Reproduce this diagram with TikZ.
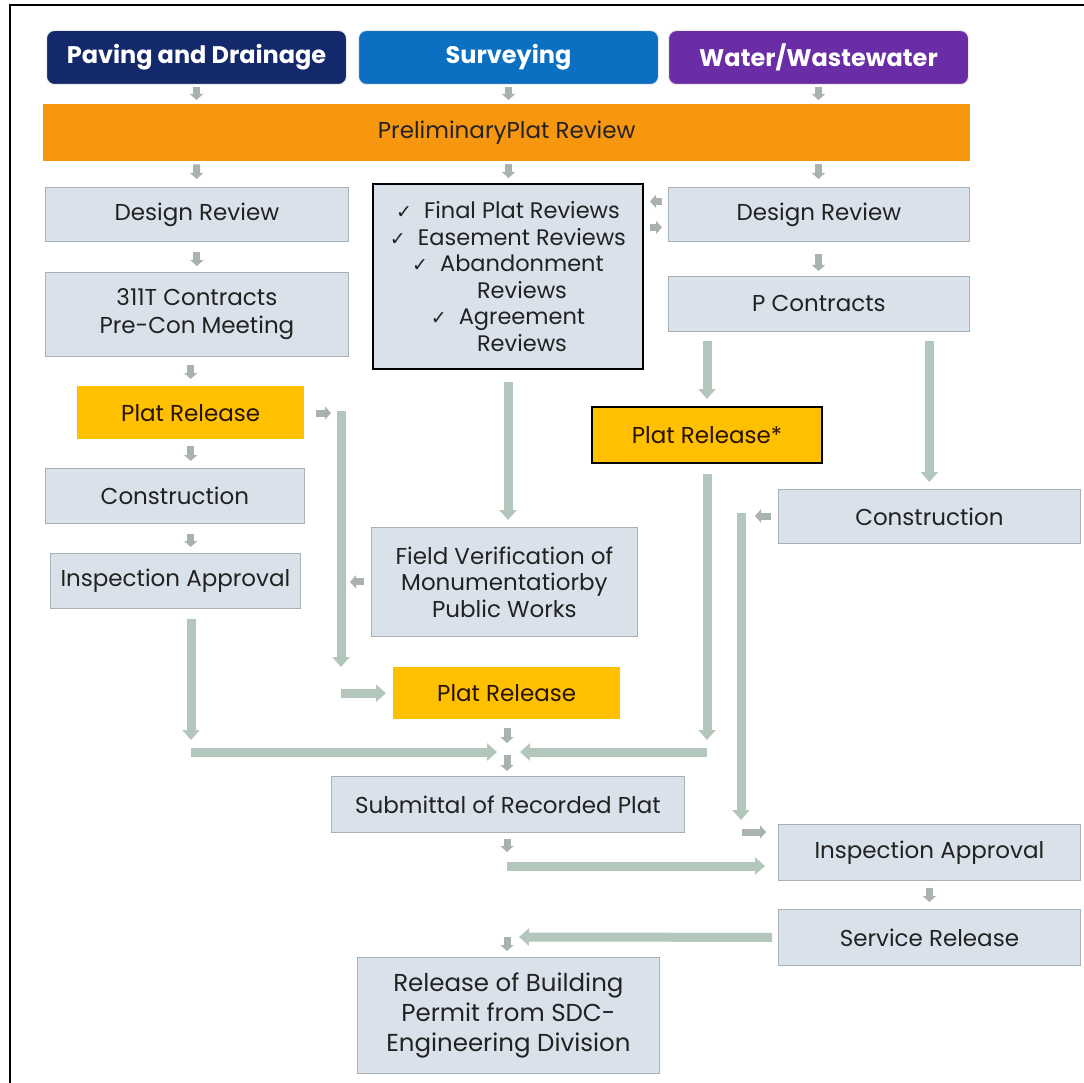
\documentclass[tikz,border=0pt]{standalone}
\usepackage{fontspec}
\setmainfont{Poppins}
\newfontfamily\dvfont{DejaVu Sans}
\usetikzlibrary{arrows.meta}

\definecolor{navyhd}{HTML}{13296B}
\definecolor{bluehd}{HTML}{0B6FC2}
\definecolor{purplehd}{HTML}{6A2DA6}
\definecolor{orangebar}{HTML}{F7960F}
\definecolor{platyellow}{HTML}{FFC000}
\definecolor{stepfill}{HTML}{D9E2EB}
\definecolor{stepedge}{HTML}{A9B1B8}
\definecolor{sage}{HTML}{B2C6BC}
\definecolor{smallarr}{HTML}{A9B2AF}
\definecolor{inktext}{HTML}{222222}

\newcommand{\bodysize}{\fontsize{23}{28}\selectfont}
\newcommand{\listsize}{\fontsize{22.5}{26.5}\selectfont}
\newcommand{\permitsize}{\fontsize{24.5}{30}\selectfont}
\newcommand{\ck}{{\dvfont\fontsize{19}{22}\selectfont ✓}\hspace{12pt}}

\tikzset{
  hdr/.style={anchor=north west, rounded corners=8pt, draw=white!85!gray,
    line width=1pt, text=white, font=\bfseries\fontsize{24}{28}\selectfont},
  stepbox/.style={anchor=north west, fill=stepfill, draw=stepedge,
    line width=0.8pt, text=inktext, font=\bodysize, align=center},
  platbox/.style={anchor=north west, fill=platyellow, draw=none,
    text=black!85!orange, font=\bodysize, align=center},
  sarr/.style={draw=smallarr, line width=7pt,
    -{Triangle[width=13pt,length=6pt]}},
  barr/.style={draw=sage, line width=9pt,
    -{Triangle[width=17pt,length=10pt]}},
}

\begin{document}
\begin{tikzpicture}[x=1pt,y=-1pt]
% page and frame
\fill[white] (0,0) rectangle (1084,1083);
\useasboundingbox (0,0) rectangle (1084,1083);
\draw[line width=2pt] (10,1083) -- (10,5) -- (1084,5);

% division headers
\node[hdr, fill=navyhd, minimum width=300pt, minimum height=54pt] (hPD) at (46,30) {Paving and Drainage};
\node[hdr, fill=bluehd, minimum width=300pt, minimum height=54pt] (hSv) at (358,30) {Surveying};
\node[hdr, fill=purplehd, minimum width=300pt, minimum height=54pt] (hWW) at (668,30) {Water/Wastewater};

% shared preliminary review
\node[anchor=north west, fill=orangebar, minimum width=927pt, minimum height=57pt,
  text=inktext, font=\bodysize] (pre) at (43,104) {PreliminaryPlat Review};

% paving and drainage column
\node[stepbox, minimum width=303pt, minimum height=54pt] (dL) at (45,187) {Design Review};
\node[stepbox, minimum width=303pt, minimum height=84pt] (pc) at (45,272) {311T Contracts\\Pre-Con Meeting};
\node[platbox, minimum width=227pt, minimum height=53pt] (prL) at (77,386) {Plat Release};
\node[stepbox, minimum width=259pt, minimum height=55pt] (conL) at (45,468) {Construction};
\node[stepbox, minimum width=250pt, minimum height=55pt] (iaL) at (50,553) {Inspection Approval};

% surveying column
\node[stepbox, draw=black, line width=2pt, minimum width=270pt, minimum height=185pt,
  font=\listsize] (chk) at (372,183)
  {\ck Final Plat Reviews\\\ck Easement Reviews\\\ck Abandonment\\\hspace{28pt}Reviews\\\ck Agreement\\\hspace{28pt}Reviews};
\node[stepbox, minimum width=266pt, minimum height=109pt, font=\fontsize{23}{26.5}\selectfont] (fv) at (371,527)
  {Field Verification of\\Monumentatiorby\\Public Works};
\node[platbox, minimum width=227pt, minimum height=52pt] (prM) at (393,667) {Plat Release};
\node[stepbox, minimum width=353pt, minimum height=56pt] (sub) at (331,776) {Submittal of Recorded Plat};
\node[stepbox, minimum width=302pt, minimum height=116pt, font=\permitsize] (rel) at (357,957)
  {Release of Building\\Permit from SDC-\\Engineering Division};

% water/wastewater column
\node[stepbox, minimum width=301pt, minimum height=54pt] (dR) at (668,187) {Design Review};
\node[stepbox, minimum width=301pt, minimum height=55pt] (pR) at (668,276) {P Contracts};
\node[platbox, draw=black, line width=2pt, minimum width=230pt, minimum height=56pt] (prS) at (591,406) {Plat Release*};
\node[stepbox, minimum width=302pt, minimum height=54pt] (conR) at (778,489) {Construction};
\node[stepbox, minimum width=302pt, minimum height=56pt] (iaR) at (778,824) {Inspection Approval};
\node[stepbox, minimum width=302pt, minimum height=56pt] (sr) at (778,909) {Service Release};

% junctions and bends of the long connectors
\coordinate (vL) at (341,413);
\coordinate (jL) at (191,752);
\coordinate (jn) at (507,752);
\coordinate (vR) at (741,516);
\coordinate (hS) at (507,866);
\coordinate (hB) at (507,937);
\coordinate (iaIn) at ([yshift=-8pt]iaR.north west);

% headers into the preliminary review
\draw[sarr, shorten <=2pt, shorten >=4pt] (hPD.south) -- (hPD.south |- pre.north);
\draw[sarr, shorten <=2pt, shorten >=4pt] (hSv.south) -- (hSv.south |- pre.north);
\draw[sarr, shorten <=2pt, shorten >=4pt] (hWW.south) -- (hWW.south |- pre.north);

% preliminary review into each column
\draw[sarr, shorten <=3pt, shorten >=8pt] (pre.south -| hPD.south) -- (dL.north);
\draw[sarr, shorten <=3pt, shorten >=5pt] (pre.south -| hSv.south) -- (hSv.south |- chk.north);
\draw[sarr, shorten <=3pt, shorten >=8pt] (pre.south -| hWW.south) -- (hWW.south |- dR.north);

% paving and drainage chain
\draw[sarr, shorten <=10pt, shorten >=6pt] (dL.south) -- (pc.north);
\draw[sarr, shorten <=8pt, shorten >=7pt] (pc.south -| prL.south) -- (prL.north);
\draw[sarr, shorten <=7pt, shorten >=7pt] (prL.south) -- (prL.south |- conL.north);
\draw[sarr, shorten <=10pt, shorten >=6pt] (conL.south -| prL.south) -- (prL.south |- iaL.north);
\draw[barr, shorten <=10pt, shorten >=12pt] (iaL.south -| jL) -- (jL);
\draw[barr, shorten >=10pt] (jL) -- (jn);

% plat release hand-off to surveying
\draw[sarr, shorten <=12pt, shorten >=10pt] (prL.east |- vL) -- (vL);
\draw[barr] ([yshift=2pt]vL) -- (vL |- prM.north);
\draw[barr, shorten >=7pt] (vL |- prM.west) -- (prM.west);
\draw[sarr, shorten <=7pt, shorten >=9pt] (fv.west) -- (fv.west -| vL);

% surveying chain
\draw[sarr, shorten <=6pt, shorten >=6pt] ([yshift=13pt]dR.west) -- ([yshift=13pt]dR.west -| chk.east);
\draw[sarr, shorten <=6pt, shorten >=6pt] ([yshift=-13pt]dR.west -| chk.east) -- ([yshift=-13pt]dR.west);
\draw[barr, shorten <=12pt, shorten >=7pt] (chk.south) -- (chk.south |- fv.north);
\draw[sarr, shorten <=9pt, shorten >=9pt] (prM.south -| jn) -- (jn);
\draw[sarr, shorten <=3pt, shorten >=5pt] (jn) -- (jn |- sub.north);
\draw[sarr, shorten <=6pt, shorten >=14pt] (sub.south -| hS) -- (hS);
\draw[barr, shorten >=13pt] (hS) -- (hS -| iaR.west);

% water/wastewater chain
\draw[sarr, shorten <=12pt, shorten >=5pt] (dR.south -| hWW.south) -- (hWW.south |- pR.north);
\draw[barr, shorten <=9pt, shorten >=7pt] (pR.south -| prS.north) -- (prS.north);
\draw[barr, shorten <=9pt, shorten >=7pt] (conR.north |- pR.south) -- (conR.north);
\draw[barr, shorten <=10pt, shorten >=12pt] (prS.south) -- (prS.south |- jn);
\draw[barr, shorten >=13pt] (prS.south |- jn) -- (jn);
\draw[sarr, shorten <=7pt, shorten >=14pt] (conR.west |- vR) -- (vR);
\draw[barr, shorten >=4pt] ([yshift=3pt]vR) -- (vR |- iaR.north);
\draw[sarr, shorten <=1pt, shorten >=12pt] (iaIn -| vR) -- (iaIn);
\draw[sarr, shorten <=7pt, shorten >=7pt] (iaR.south) -- (sr.north);
\draw[barr, shorten <=6pt, shorten >=12pt] (sr.west) -- (hB);
\draw[sarr, shorten >=6pt] (hB) -- (hB |- rel.north);
\end{tikzpicture}
\end{document}
